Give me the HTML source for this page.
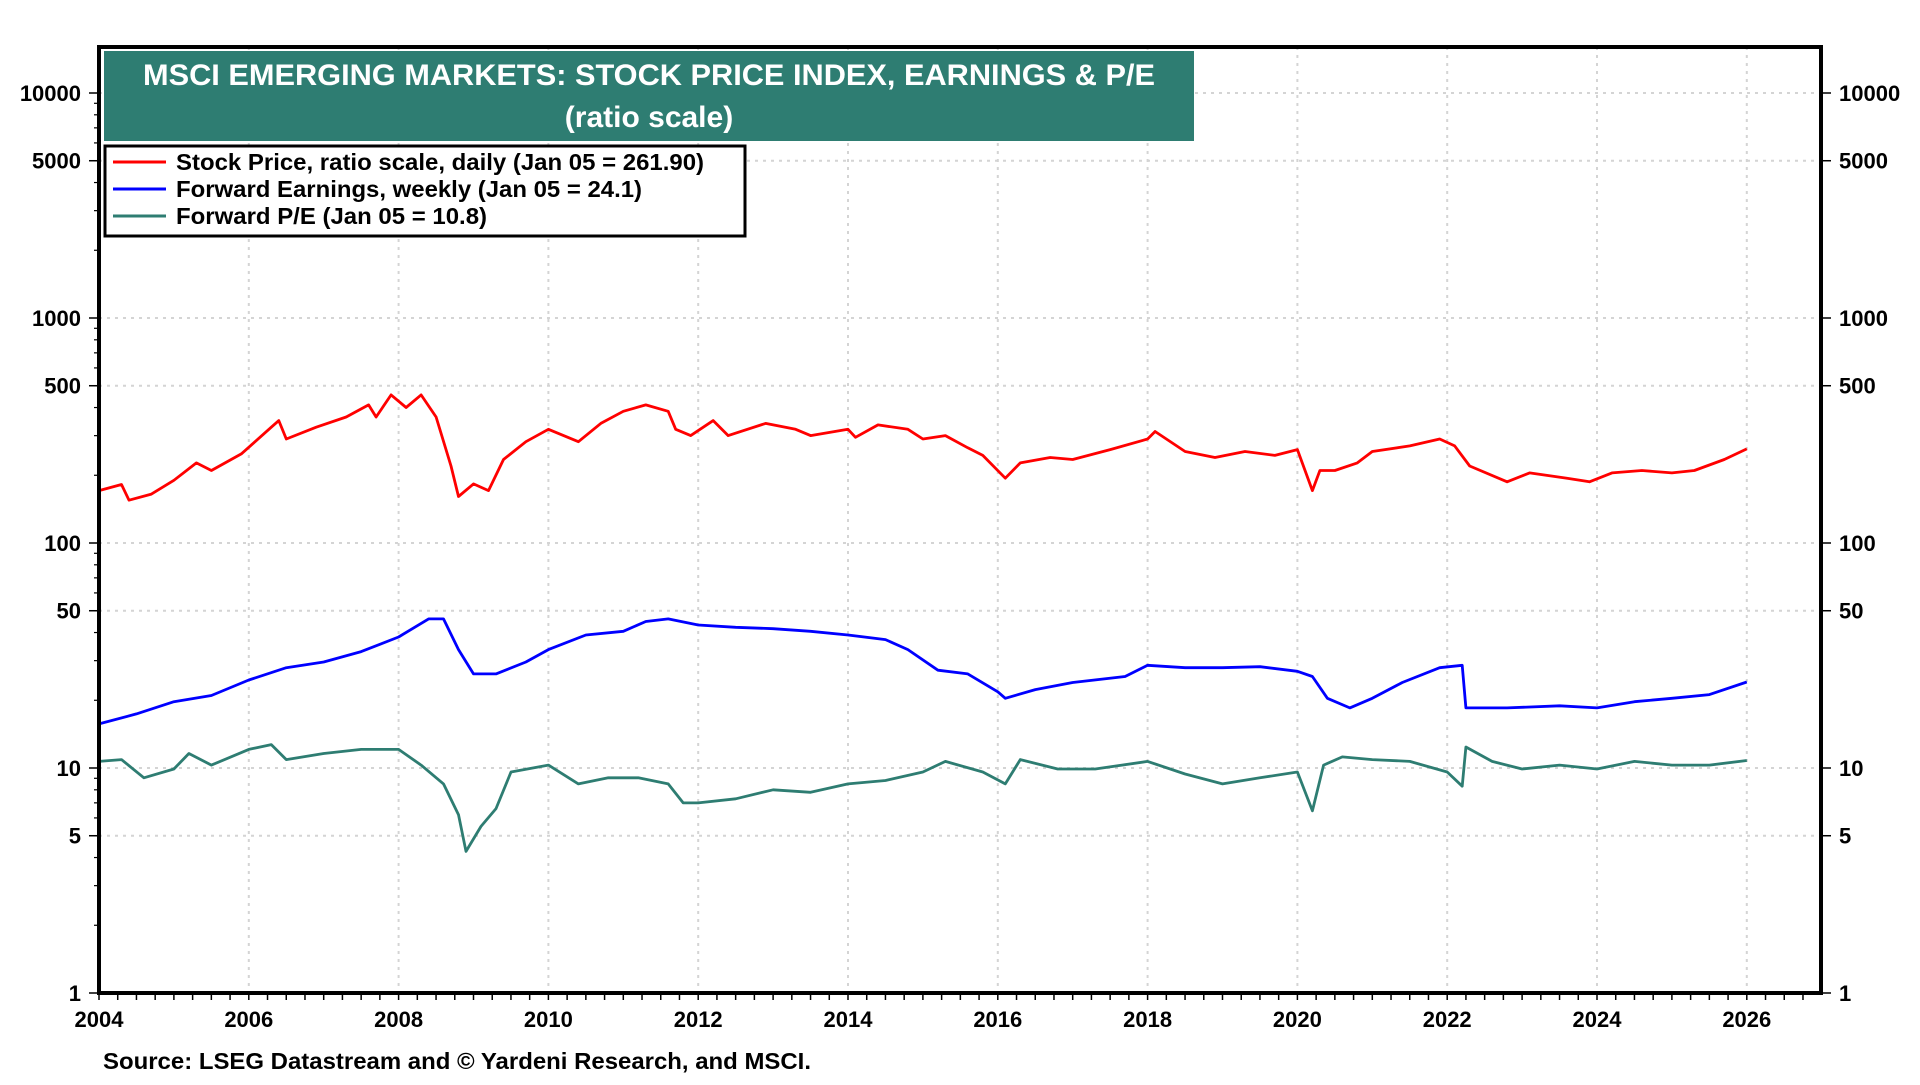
<!DOCTYPE html>
<html><head><meta charset="utf-8"><style>
html,body{margin:0;padding:0;background:#fff;}
svg text{font-family:"Liberation Sans",Arial,sans-serif;font-weight:bold;}
</style></head><body>
<svg id="chart" width="1920" height="1080" xmlns="http://www.w3.org/2000/svg">
<g id="grid"></g>
<g id="series"></g>
<rect x="99" y="47" width="1722" height="946" fill="none" stroke="#000" stroke-width="4"/>
<g id="axes"></g>
<rect x="104" y="51" width="1090" height="90" fill="#2e7d72"/>
<text x="649" y="85" text-anchor="middle" fill="#fff" font-size="30" textLength="1012" lengthAdjust="spacingAndGlyphs">MSCI EMERGING MARKETS: STOCK PRICE INDEX, EARNINGS &amp; P/E</text>
<text x="649" y="127" text-anchor="middle" fill="#fff" font-size="30">(ratio scale)</text>
<g>
<rect x="105" y="146" width="640" height="90" fill="#fff" stroke="#000" stroke-width="3"/>
<line x1="113" y1="162" x2="166" y2="162" stroke="#ff0000" stroke-width="3"/>
<text x="176" y="170" font-size="23" textLength="528" lengthAdjust="spacingAndGlyphs">Stock Price, ratio scale, daily (Jan 05 = 261.90)</text>
<line x1="113" y1="189" x2="166" y2="189" stroke="#0000ff" stroke-width="3"/>
<text x="176" y="197" font-size="23" textLength="466" lengthAdjust="spacingAndGlyphs">Forward Earnings, weekly (Jan 05 = 24.1)</text>
<line x1="113" y1="216" x2="166" y2="216" stroke="#2e7d72" stroke-width="3"/>
<text x="176" y="224" font-size="23" textLength="311" lengthAdjust="spacingAndGlyphs">Forward P/E (Jan 05 = 10.8)</text>
</g>
<text x="103" y="1069" font-size="23" textLength="708" lengthAdjust="spacingAndGlyphs">Source: LSEG Datastream and © Yardeni Research, and MSCI.</text>
</svg>
<script>
const yearTicks=[2004,2006,2008,2010,2012,2014,2016,2018,2020,2022,2024,2026];
const yTickValues=[1,5,10,50,100,500,1000,5000,10000];
const priceYears=[2004.0,2004.3,2004.4,2004.7,2005.0,2005.3,2005.5,2005.9,2006.3,2006.4,2006.5,2006.9,2007.3,2007.6,2007.7,2007.9,2008.1,2008.3,2008.5,2008.7,2008.8,2009.0,2009.2,2009.4,2009.7,2010.0,2010.4,2010.7,2011.0,2011.3,2011.6,2011.7,2011.9,2012.2,2012.4,2012.9,2013.3,2013.5,2014.0,2014.1,2014.4,2014.8,2015.0,2015.3,2015.6,2015.8,2016.1,2016.3,2016.7,2017.0,2017.5,2018.0,2018.1,2018.5,2018.9,2019.3,2019.7,2020.0,2020.2,2020.3,2020.5,2020.8,2021.0,2021.5,2021.9,2022.1,2022.3,2022.8,2023.1,2023.6,2023.9,2024.2,2024.6,2025.0,2025.3,2025.7,2026.0];
const priceValues=[171,182,155,165,190,227,210,249,327,350,290,327,363,411,363,455,400,455,363,220,161,183,171,235,282,320,282,340,385,411,385,320,300,350,300,340,320,300,320,295,335,320,290,300,265,245,194,227,240,235,260,290,313,255,240,255,245,260,171,210,210,227,255,270,290,270,220,187,205,194,187,205,210,205,210,235,262];
const epsYears=[2004.0,2004.5,2005.0,2005.5,2006.0,2006.5,2007.0,2007.5,2008.0,2008.4,2008.6,2008.8,2009.0,2009.3,2009.7,2010.0,2010.5,2011.0,2011.3,2011.6,2012.0,2012.5,2013.0,2013.5,2014.0,2014.5,2014.8,2015.2,2015.6,2016.0,2016.1,2016.5,2017.0,2017.7,2018.0,2018.5,2019.0,2019.5,2020.0,2020.2,2020.4,2020.7,2021.0,2021.4,2021.9,2022.2,2022.25,2022.8,2023.5,2024.0,2024.5,2025.0,2025.5,2026.0];
const epsValues=[15.7,17.4,19.7,21,24.6,27.9,29.6,32.9,38.2,46,46,33.6,26.2,26.2,29.6,33.6,39,40.5,44.8,46,43.2,42.2,41.6,40.5,39,37.2,33.6,27.2,26.2,21.8,20.4,22.3,24,25.5,28.6,27.9,27.9,28.2,26.9,25.5,20.4,18.5,20.4,24,27.9,28.6,18.5,18.5,18.9,18.5,19.7,20.4,21.2,24.1];
const peYears=[2004.0,2004.3,2004.6,2005.0,2005.2,2005.5,2006.0,2006.3,2006.5,2007.0,2007.5,2008.0,2008.3,2008.6,2008.8,2008.9,2009.1,2009.3,2009.5,2010.0,2010.4,2010.8,2011.2,2011.6,2011.8,2012.0,2012.5,2013.0,2013.5,2014.0,2014.5,2015.0,2015.3,2015.8,2016.1,2016.3,2016.8,2017.3,2018.0,2018.5,2019.0,2019.5,2020.0,2020.2,2020.35,2020.6,2021.0,2021.5,2022.0,2022.2,2022.25,2022.6,2023.0,2023.5,2024.0,2024.5,2025.0,2025.5,2026.0];
const peValues=[10.7,10.9,9.05,9.9,11.6,10.3,12.1,12.7,10.9,11.6,12.1,12.1,10.3,8.5,6.2,4.26,5.5,6.6,9.6,10.3,8.5,9.05,9.05,8.5,7.0,7.0,7.3,8,7.8,8.5,8.8,9.6,10.7,9.6,8.5,10.9,9.9,9.9,10.7,9.4,8.5,9.05,9.6,6.45,10.3,11.2,10.9,10.7,9.6,8.3,12.4,10.7,9.9,10.3,9.9,10.7,10.3,10.3,10.8];

const NS='http://www.w3.org/2000/svg';
const L=99,R=1821,T=47,B=993;
const xOf=y=>99+(y-2004)*74.9;
const yOf=v=>993-Math.log10(v)*225;
function mk(tag,attrs,parent,text){const e=document.createElementNS(NS,tag);for(const k in attrs)e.setAttribute(k,attrs[k]);if(text!==undefined)e.textContent=text;parent.appendChild(e);return e;}
const grid=document.getElementById('grid'),axes=document.getElementById('axes'),series=document.getElementById('series');
yearTicks.forEach(yr=>{
  const x=xOf(yr);
  if(yr>2004){const g=mk('line',{x1:x,y1:T,x2:x,y2:B,stroke:'#d4d4d4','stroke-width':2,'stroke-dasharray':'3,5'},grid);
  
  }
  const t=mk('text',{x:x,y:1027,'text-anchor':'middle','font-size':22},axes,String(yr));
  
  
});
for(let q=2004;q<=2027;q+=0.25){const x=xOf(q);if(x>R)break;mk('line',{x1:x,y1:B,x2:x,y2:B+7,stroke:'#000','stroke-width':1.5},axes);}
yTickValues.forEach(v=>{
  const y=yOf(v);
  if(v>1){const g=mk('line',{x1:L,y1:y,x2:R,y2:y,stroke:'#d4d4d4','stroke-width':2,'stroke-dasharray':'3,5'},grid);
  
  }
  const t=mk('text',{x:81,y:y+8,'text-anchor':'end','font-size':22},axes,String(v));
  
  
  const t2=mk('text',{x:1839,y:y+8,'text-anchor':'start','font-size':22},axes,String(v));
  
  
  mk('line',{x1:L-10,y1:y,x2:L,y2:y,stroke:'#000','stroke-width':1.5},axes);
  mk('line',{x1:R,y1:y,x2:R+10,y2:y,stroke:'#000','stroke-width':1.5},axes);
});
for(let d=0;d<4;d++)for(let m=2;m<=9;m++){const v=m*Math.pow(10,d);const y=yOf(v);if(y<T)continue;mk('line',{x1:L-5,y1:y,x2:L,y2:y,stroke:'#000','stroke-width':1.2},axes);}
function draw(xs,vs,color,name){
  const pts=xs.map((x,i)=>xOf(x).toFixed(1)+','+yOf(vs[i]).toFixed(1)).join(' ');
  const p=mk('polyline',{points:pts,fill:'none',stroke:color,'stroke-width':2.8,'stroke-linejoin':'round'},series);
  
  
}
draw(priceYears,priceValues,'#ff0000','stock-price-line');
draw(epsYears,epsValues,'#0000ff','forward-earnings-line');
draw(peYears,peValues,'#2e7d72','forward-pe-line');
</script>
</body></html>
